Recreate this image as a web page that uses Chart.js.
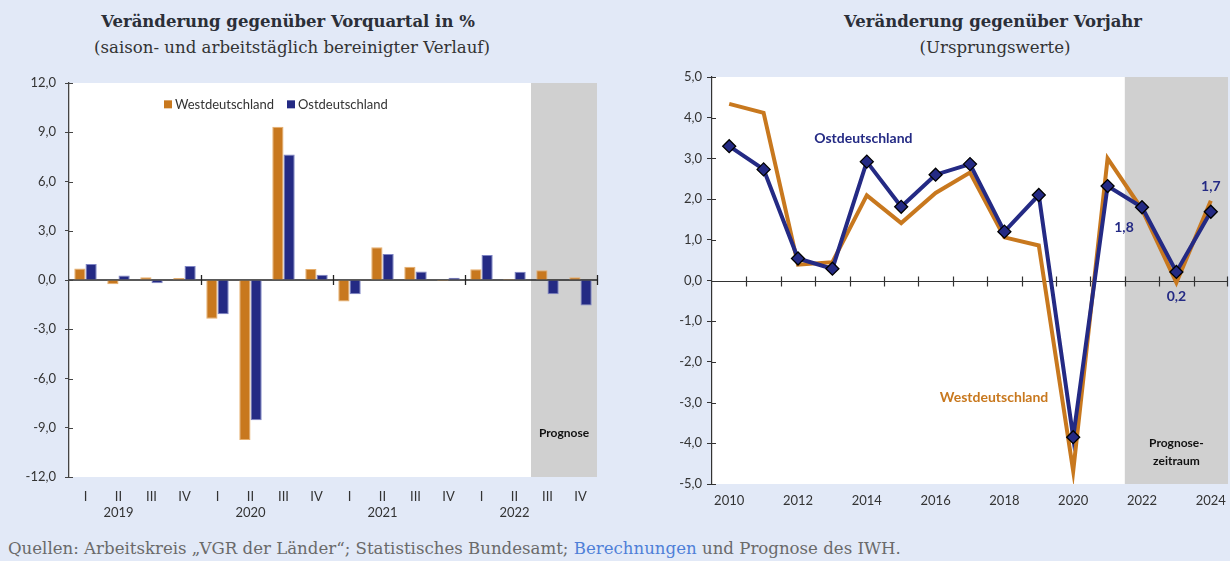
<!DOCTYPE html>
<html><head><meta charset="utf-8">
<script src="https://cdn.jsdelivr.net/npm/chart.js@4.4.1/dist/chart.umd.min.js"></script>
<style>
body{margin:0;background:#E2E9F7;width:1230px;height:561px;overflow:hidden;position:relative;font-family:Lato,sans-serif;}
.t{position:absolute;white-space:nowrap;transform:translateX(-50%);font-family:"DejaVu Serif",serif;color:#2b2f38}
.t1{font-weight:bold;font-size:16.5px}
.t2{font-size:16.6px;color:#333}
#c1wrap{position:absolute;left:0;top:60px;width:615px;height:470px}
#c2wrap{position:absolute;left:620px;top:60px;width:610px;height:460px}
#foot{position:absolute;left:8px;top:539px;white-space:nowrap;font-family:"DejaVu Serif",serif;font-size:16.6px;color:#6a6a6a}
#foot span{color:#4F7FD8}
</style></head>
<body>
<div class="t t1" style="left:288px;top:12px">Veränderung gegenüber Vorquartal in %</div>
<div class="t t2" style="left:292px;top:38px">(saison- und arbeitstäglich bereinigter Verlauf)</div>
<div class="t t1" style="left:993px;top:12px">Veränderung gegenüber Vorjahr</div>
<div class="t t2" style="left:995px;top:38px">(Ursprungswerte)</div>
<div id="c1wrap"><canvas id="c1"></canvas></div>
<div id="c2wrap"><canvas id="c2"></canvas></div>
<div id="foot">Quellen: Arbeitskreis „VGR der Länder“; Statistisches Bundesamt; <span>Berechnungen</span> und Prognose des IWH.</div>
<script>
// ---- Data: left chart (quarterly change, %) ----
const quarters = ['I','II','III','IV','I','II','III','IV','I','II','III','IV','I','II','III','IV'];
const quarterYears = ['2019','2020','2021','2022'];
const westQ = [0.70,-0.26,0.16,0.12,-2.36,-9.74,9.33,0.67,-1.31,2.00,0.81,-0.06,0.65,0.06,0.59,0.16];
const ostQ  = [0.97,0.27,-0.20,0.85,-2.08,-8.55,7.64,0.32,-0.87,1.58,0.52,0.14,1.52,0.50,-0.87,-1.56];
const leftTicks = [-12,-9,-6,-3,0,3,6,9,12];
const forecastQuarterStart = 14;

// ---- Data: right chart (change vs previous year, %) ----
const years = ['2010','2011','2012','2013','2014','2015','2016','2017','2018','2019','2020','2021','2022','2023','2024'];
const westY = [4.34,4.12,0.39,0.45,2.09,1.41,2.15,2.65,1.06,0.86,-4.68,3.00,1.75,-0.05,1.96];
const ostY  = [3.30,2.73,0.54,0.29,2.92,1.81,2.60,2.86,1.20,2.10,-3.85,2.32,1.80,0.21,1.69];
const rightTicks = [-5,-4,-3,-2,-1,0,1,2,3,4,5];
const forecastYearStart = 12;
const labelledPoints = [12,13,14];

const ORANGE = '#C8781E', NAVY = '#242A84';
const FONT = 'Lato, sans-serif';
const fmt = v => Number(v).toFixed(1).replace('.', ',');

const qLabels = quarters.map((q,i) => (i % 4 === 1) ? [q, quarterYears[Math.floor(i/4)]] : q);

function boundary(xs, i){ // pixel between category i-1 and i
  const w = xs.getPixelForValue(1) - xs.getPixelForValue(0);
  return xs.getPixelForValue(i) - w/2;
}

const leftPlugin = {
  id:'leftDeco',
  beforeDraw(chart){
    const {ctx, chartArea:a, scales:{x,y}} = chart;
    ctx.save();
    ctx.fillStyle = '#fff'; ctx.fillRect(a.left, a.top, a.right-a.left, a.bottom-a.top);
    const gx = boundary(x, forecastQuarterStart);
    ctx.fillStyle = '#D0D0D0'; ctx.fillRect(gx, a.top, a.right-gx, a.bottom-a.top);
    ctx.restore();
  },
  beforeDatasetsDraw(chart){
    const {ctx, chartArea:a, scales:{x,y}} = chart;
    ctx.save();
    ctx.strokeStyle = '#222'; ctx.lineWidth = 1.3;
    const y0 = y.getPixelForValue(0);
    ctx.beginPath(); ctx.moveTo(a.left, y0); ctx.lineTo(a.right, y0); ctx.stroke();
    for (let i = 4; i <= quarters.length; i += 4){
      const bx = Math.round(boundary(x, i)) + 0.5;
      ctx.beginPath(); ctx.moveTo(bx, y0-5); ctx.lineTo(bx, y0+5); ctx.stroke();
    }
    ctx.strokeStyle = '#444'; ctx.lineWidth = 1;
    leftTicks.forEach(v => {
      const py = Math.round(y.getPixelForValue(v)) + 0.5;
      ctx.beginPath(); ctx.moveTo(a.left, py); ctx.lineTo(a.left+4, py); ctx.stroke();
    });
    ctx.restore();
  },
  afterDatasetsDraw(chart){
    const {ctx, chartArea:a, scales:{x,y}} = chart;
    ctx.save();
    ctx.font = '13px ' + FONT; ctx.textBaseline = 'middle'; ctx.textAlign = 'left';
    const ly = y.getPixelForValue(10.7);
    ctx.fillStyle = ORANGE; ctx.fillRect(a.left+95, ly-4, 8, 8);
    ctx.fillStyle = '#333'; ctx.fillText('Westdeutschland', a.left+106, ly);
    ctx.fillStyle = NAVY; ctx.fillRect(a.left+218, ly-4, 8, 8);
    ctx.fillStyle = '#333'; ctx.fillText('Ostdeutschland', a.left+229, ly);
    const gx = boundary(x, forecastQuarterStart);
    ctx.font = 'bold 12px ' + FONT; ctx.textAlign = 'center'; ctx.fillStyle = '#111';
    ctx.fillText('Prognose', (gx + a.right)/2, y.getPixelForValue(-9.3));
    ctx.restore();
  }
};

new Chart(document.getElementById('c1'), {
  type:'bar',
  data:{ labels: qLabels, datasets:[
    {label:'Westdeutschland', data: westQ, backgroundColor: ORANGE, borderColor:'#E6AE6C', borderWidth:1, categoryPercentage:0.68, barPercentage:1},
    {label:'Ostdeutschland', data: ostQ, backgroundColor: NAVY, borderColor:'#7E84C4', borderWidth:1, categoryPercentage:0.68, barPercentage:1}
  ]},
  options:{
    responsive:true, maintainAspectRatio:false, animation:false,
    layout:{autoPadding:false, padding:{top:23, right:18, left:0, bottom:0}},
    plugins:{legend:{display:false}, tooltip:{enabled:false}},
    scales:{
      x:{grid:{display:false, drawTicks:false}, border:{display:false},
         ticks:{color:'#333', font:{family:FONT, size:13}, padding:12, maxRotation:0, autoSkip:false},
         afterFit(s){ s.height = 53; s.paddingLeft = 0; s.paddingRight = 0; }},
      y:{min:-12, max:12, afterBuildTicks(s){ s.ticks = leftTicks.map(v=>({value:v})); },
         grid:{drawOnChartArea:false, tickLength:4, color:'#444'}, border:{display:true, color:'#444', width:1.3},
         ticks:{color:'#333', font:{family:FONT, size:13}, padding:9, callback:fmt},
         afterFit(s){ s.width = 69; s.paddingTop = 0; s.paddingBottom = 0; }}
    }
  },
  plugins:[leftPlugin]
});

const rightPlugin = {
  id:'rightDeco',
  beforeDraw(chart){
    const {ctx, chartArea:a, scales:{x}} = chart;
    ctx.save();
    ctx.fillStyle = '#fff'; ctx.fillRect(a.left, a.top, a.right-a.left, a.bottom-a.top);
    const gx = boundary(x, forecastYearStart);
    ctx.fillStyle = '#D0D0D0'; ctx.fillRect(gx, a.top, a.right-gx, a.bottom-a.top);
    ctx.restore();
  },
  beforeDatasetsDraw(chart){
    const {ctx, chartArea:a, scales:{x,y}} = chart;
    ctx.save();
    ctx.strokeStyle = '#333'; ctx.lineWidth = 1.2;
    const y0 = Math.round(y.getPixelForValue(0)) + 0.5;
    ctx.beginPath(); ctx.moveTo(a.left, y0); ctx.lineTo(a.right, y0); ctx.stroke();
    for (let i = 1; i <= years.length; i++){
      const bx = Math.min(Math.round(boundary(x, i)) + 0.5, a.right - 0.5);
      ctx.beginPath(); ctx.moveTo(bx, y0-5); ctx.lineTo(bx, y0+5); ctx.stroke();
    }
    ctx.lineWidth = 1;
    rightTicks.forEach(v => {
      const py = Math.round(y.getPixelForValue(v)) + 0.5;
      ctx.beginPath(); ctx.moveTo(a.left, py); ctx.lineTo(a.left+4, py); ctx.stroke();
    });
    ctx.restore();
  },
  afterDatasetsDraw(chart){
    const {ctx, chartArea:a, scales:{x,y}} = chart;
    ctx.save();
    ctx.textAlign = 'center'; ctx.textBaseline = 'middle';
    ctx.font = 'bold 14px ' + FONT;
    ctx.fillStyle = NAVY;
    ctx.fillText('Ostdeutschland', x.getPixelForValue(3.9), y.getPixelForValue(3.5));
    ctx.fillStyle = ORANGE;
    ctx.fillText('Westdeutschland', x.getPixelForValue(7.7), y.getPixelForValue(-2.87));
    ctx.fillStyle = NAVY;
    const offs = [[-18, 20], [0, 25], [0, -25]];
    labelledPoints.forEach((idx, k) => {
      ctx.fillText(fmt(ostY[idx]), x.getPixelForValue(idx) + offs[k][0], y.getPixelForValue(ostY[idx]) + offs[k][1]);
    });
    const gx = boundary(x, forecastYearStart);
    ctx.font = 'bold 12px ' + FONT; ctx.fillStyle = '#111';
    ctx.fillText('Prognose-', (gx + a.right)/2, y.getPixelForValue(-4.0));
    ctx.fillText('zeitraum', (gx + a.right)/2, y.getPixelForValue(-4.44));
    ctx.restore();
  }
};

new Chart(document.getElementById('c2'), {
  type:'line',
  data:{ labels: years, datasets:[
    {label:'Ostdeutschland', data: ostY, borderColor: NAVY, borderWidth:4, tension:0, order:0,
     pointStyle:'rectRot', pointRadius:6.5, pointBackgroundColor: NAVY, pointBorderColor:'#000', pointBorderWidth:1.3},
    {label:'Westdeutschland', data: westY, borderColor: ORANGE, borderWidth:4, tension:0, order:1, pointRadius:0}
  ]},
  options:{
    responsive:true, maintainAspectRatio:false, animation:false,
    layout:{autoPadding:false, padding:{top:17, right:2, left:0, bottom:0}},
    plugins:{legend:{display:false}, tooltip:{enabled:false}},
    scales:{
      x:{offset:true, grid:{display:false, drawTicks:false}, border:{display:false},
         ticks:{color:'#333', font:{family:FONT, size:13}, padding:9, maxRotation:0, autoSkip:false,
                callback:(v,i)=> i % 2 === 0 ? years[i] : ''},
         afterFit(s){ s.height = 36; s.paddingLeft = 0; s.paddingRight = 0; }},
      y:{min:-5, max:5, afterBuildTicks(s){ s.ticks = rightTicks.map(v=>({value:v})); },
         grid:{drawOnChartArea:false, tickLength:5, color:'#333'}, border:{display:true, color:'#333', width:1.2},
         ticks:{color:'#333', font:{family:FONT, size:13}, padding:5, callback:fmt},
         afterFit(s){ s.width = 92; s.paddingTop = 0; s.paddingBottom = 0; }}
    }
  },
  plugins:[rightPlugin]
});
</script>
</body></html>
